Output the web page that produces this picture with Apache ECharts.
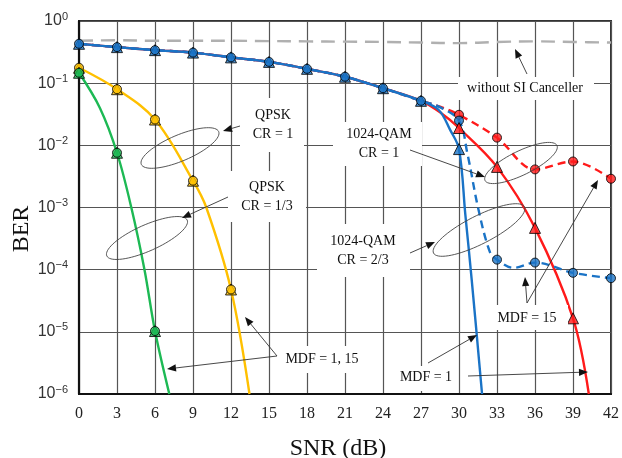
<!DOCTYPE html>
<html><head><meta charset="utf-8">
<script src="https://cdn.jsdelivr.net/npm/echarts@6/dist/echarts.min.js"></script>
<style>html,body{margin:0;padding:0;background:#fff}#c{width:622px;height:458px}</style>
</head><body><div id="c"></div>
<script>
// ---- Data (SNR in dB, BER) ----
const snrTicks = [0,3,6,9,12,15,18,21,24,27,30,33,36,39,42];
const berTicks = [1e-6,1e-5,1e-4,1e-3,1e-2,1e-1,1];

const withoutSI = [[0,0.48],[3,0.49],[6,0.48],[9,0.48],[12,0.48],[15,0.475],[18,0.47],[21,0.465],[24,0.46],[27,0.45],[30,0.44],[33,0.46],[36,0.47],[39,0.46],[42,0.45]];

// common high-BER part of the 1024-QAM curves
const qamCommon = [[0,0.43],[3,0.38],[6,0.34],[9,0.31],[12,0.26],[15,0.22],[18,0.17],[21,0.127],[24,0.083],[27,0.052]];
const qamCR1_MDF1_tail = [[28.5,0.034],[30,0.019],[33,0.0045],[36,4.7e-4],[39,1.65e-5],[40.25,1e-6]];
const qamCR1_MDF15_tail = [[28.5,0.042],[30,0.031],[33,0.0133],[36,0.0041],[39,0.0055],[42,0.0029]];
const qamCR23_MDF1_tail = [[28.4,0.037],[29.3,0.0177],[30,0.0087],[30.5,7.7e-4],[31,7e-5],[31.82,1e-6]];
const qamCR23_MDF15_tail = [[28.4,0.042],[30,0.025],[30.65,0.0076],[31.55,9e-4],[32.45,1.9e-4],[33,1.45e-4],[34.3,1.07e-4],[36,1.3e-4],[39,8.9e-5],[42,7.3e-5]];

const qpskCR1 = [[0,0.177],[3,0.08],[6,0.026],[9,0.0027],[10.05,1e-3],[12,4.8e-5],[13.46,1e-6]];
const qpskCR13 = [[0,0.147],[1.65,0.04],[3,0.0076],[4.13,1e-3],[5.17,1e-4],[6,1.03e-5],[7.13,1e-6]];

// marker positions
const qamCR1_MDF1_pts = [[30,0.019],[33,0.0045],[36,4.7e-4],[39,1.65e-5]];
const qamCR1_MDF15_pts = [[30,0.031],[33,0.0133],[36,0.0041],[39,0.0055],[42,0.0029]];
const qamCR23_MDF1_pts = [[30,0.0087]];
const qamCR23_MDF15_pts = [[30,0.025],[33,1.45e-4],[36,1.3e-4],[39,8.9e-5],[42,7.3e-5]];
const qpskCR1_pts = [[0,0.177],[3,0.08],[6,0.026],[9,0.0027],[12,4.8e-5]];
const qpskCR13_pts = [[0,0.147],[3,0.0076],[6,1.03e-5]];

const BLUE = '#1a73c6', RED = '#ff1a1a', YEL = '#ffc000', GRN = '#1db954', GRAY = '#b0b0b0';
const SERIF = '"Liberation Serif", "Times New Roman", serif';

function lineSeries(data, color, dash, width) {
  return { type: 'line', data: data, smooth: 0.35, showSymbol: false, symbol: 'none',
    lineStyle: { color: color, width: width || 2.4, type: dash || 'solid' }, z: 2, animation: false };
}
function markSeries(data, color, shape) {
  return { type: 'scatter', data: data, symbol: shape, symbolSize: shape === 'triangle' ? 11 : 9,
    itemStyle: { color: color, borderColor: '#000', borderWidth: 1 }, z: 3, animation: false };
}

// ---- annotations (pixel layout) ----
const g = [];
function ellipse(cx, cy, rx, ry, angDeg) {
  const a = -angDeg * Math.PI / 180, pts = [];
  for (let i = 0; i < 72; i++) {
    const t = i / 72 * 2 * Math.PI;
    const x = rx * Math.cos(t), y = ry * Math.sin(t);
    pts.push([cx + x * Math.cos(a) - y * Math.sin(a), cy + x * Math.sin(a) + y * Math.cos(a)]);
  }
  g.push({ type: 'polygon', shape: { points: pts }, style: { fill: null, stroke: '#444', lineWidth: 0.9 }, z: 100 });
}
function arrow(x1, y1, x2, y2) {
  const dx = x2 - x1, dy = y2 - y1, L = Math.hypot(dx, dy), ux = dx / L, uy = dy / L;
  const hl = 9, hw = 3.6;
  const bx = x2 - ux * hl, by = y2 - uy * hl;
  g.push({ type: 'line', shape: { x1: x1, y1: y1, x2: bx, y2: by }, style: { stroke: '#333', lineWidth: 0.9 }, z: 100 });
  g.push({ type: 'polygon', shape: { points: [[x2, y2], [bx - uy * hw, by + ux * hw], [bx + uy * hw, by - ux * hw]] }, style: { fill: '#111' }, z: 100 });
}
function label(lines, cx, cy, box) {
  g.push({ type: 'rect', shape: { x: box[0], y: box[1], width: box[2] - box[0], height: box[3] - box[1] }, style: { fill: '#fff' }, z: 99 });
  const lh = 19, y0 = cy - (lines.length - 1) * lh / 2;
  lines.forEach((t, i) => g.push({ type: 'text', x: cx, y: y0 + i * lh, style: { text: t, font: '14px ' + SERIF, fill: '#111', textAlign: 'center', textVerticalAlign: 'middle' }, z: 101 }));
}

label(['QPSK', 'CR = 1'], 273, 124.5, [240, 98, 304, 152]);
label(['QPSK', 'CR = 1/3'], 267, 196.5, [228, 171, 306, 222]);
label(['1024-QAM', 'CR = 1'], 379, 144, [333, 122, 422, 166]);
label(['1024-QAM', 'CR = 2/3'], 363, 251, [317, 224, 410, 277]);
label(['without SI Canceller'], 525, 88, [458, 77, 594, 100]);
label(['MDF = 15'], 527, 318, [490, 305, 568, 330]);
label(['MDF = 1, 15'], 322, 359, [283, 346, 362, 373]);
label(['MDF = 1'], 426, 377, [400, 366, 455, 391]);

ellipse(180, 148, 42, 13, 23);
ellipse(147, 238, 44, 13, 24);
ellipse(521, 163, 40, 12, 26);
ellipse(479, 230, 51, 14, 27);

arrow(240, 126, 223, 131);
arrow(228, 197, 182, 218);
arrow(410, 150, 485, 177);
arrow(410, 253, 435, 242);
arrow(527, 74, 515, 49);
arrow(527, 303, 525, 277);
arrow(527, 303, 598, 180);
arrow(277, 356, 245, 317);
arrow(277, 356, 167, 369);
arrow(428, 363, 477, 335);
arrow(468, 376, 588, 372);

g.push({ type: 'text', x: 22, y: 229, rotation: Math.PI / 2, style: { text: 'BER', font: '24px ' + SERIF, fill: '#111', textAlign: 'center', textVerticalAlign: 'middle' }, z: 101 });
g.push({ type: 'text', x: 338, y: 449, style: { text: 'SNR (dB)', font: '24px ' + SERIF, fill: '#111', textAlign: 'center', textVerticalAlign: 'middle' }, z: 101 });

const chart = echarts.init(document.getElementById('c'), null, { renderer: 'canvas' });
chart.setOption({
  animation: false,
  backgroundColor: '#fff',
  grid: { left: 79, right: 7, top: 21, bottom: 64, show: true, borderColor: '#333', borderWidth: 2 },
  xAxis: {
    type: 'value', min: snrTicks[0], max: snrTicks[snrTicks.length - 1], interval: 3,
    axisLine: { lineStyle: { color: '#111', width: 2.2 } }, axisTick: { show: false },
    splitLine: { show: true, lineStyle: { color: '#555', width: 1.2 } },
    axisLabel: { margin: 12, fontFamily: SERIF, fontSize: 16, color: '#222' }
  },
  yAxis: {
    type: 'log', logBase: 10, min: berTicks[0], max: berTicks[berTicks.length - 1], interval: 1,
    axisLine: { show: true, lineStyle: { color: '#111', width: 2.2 } }, axisTick: { show: false },
    splitLine: { show: true, lineStyle: { color: '#555', width: 1.2 } },
    axisLabel: {
      margin: 11, color: '#333',
      formatter: function (v) { const e = Math.round(Math.log10(v)); return '{b|10}{s|' + (e < 0 ? '\u2212' + (-e) : e) + '}'; },
      rich: { b: { fontSize: 16, fontFamily: 'Liberation Sans', color: '#333' },
              s: { fontSize: 11, fontFamily: 'Liberation Sans', color: '#333', padding: [0, 0, 9, 0] } }
    }
  },
  series: [
    lineSeries(withoutSI, GRAY, [14, 8], 2.4),
    lineSeries(qamCommon.concat(qamCR1_MDF1_tail), RED),
    lineSeries(qamCommon.concat(qamCR1_MDF15_tail), RED, [8, 5]),
    lineSeries(qamCommon.concat(qamCR23_MDF15_tail), BLUE, [8, 5]),
    lineSeries(qamCommon.concat(qamCR23_MDF1_tail), BLUE),
    lineSeries(qpskCR1, YEL),
    lineSeries(qpskCR13, GRN),
    markSeries(qamCR1_MDF15_pts, RED, 'circle'),
    markSeries(qamCR23_MDF15_pts, BLUE, 'circle'),
    markSeries(qamCR1_MDF1_pts, RED, 'triangle'),
    markSeries(qamCR23_MDF1_pts, BLUE, 'triangle'),
    markSeries(qamCommon, BLUE, 'triangle'),
    markSeries(qamCommon, BLUE, 'circle'),
    markSeries(qpskCR1_pts, YEL, 'triangle'),
    markSeries(qpskCR1_pts, YEL, 'circle'),
    markSeries(qpskCR13_pts, GRN, 'triangle'),
    markSeries(qpskCR13_pts, GRN, 'circle')
  ],
  graphic: g
});
</script></body></html>
